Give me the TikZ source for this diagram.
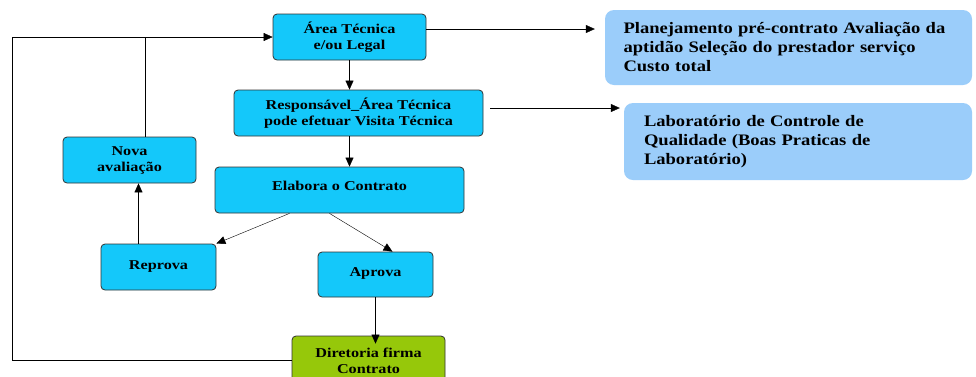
\documentclass[tikz,border=0pt]{standalone}
\usepackage{fontspec}
\setmainfont{Liberation Serif}
\newfontfamily\boxfont[FakeStretch=1.2]{Liberation Serif}
\newfontfamily\notefont[FakeStretch=1.16]{Liberation Serif}
\usetikzlibrary{arrows.meta}

\definecolor{boxcyan}{RGB}{20,200,250}
\definecolor{boxgreen}{RGB}{150,200,10}
\definecolor{notebg}{RGB}{155,205,250}

\begin{document}
\begin{tikzpicture}[x=1pt,y=-1pt]
\tikzset{%
  >={Triangle[length=9pt,width=8pt]}, % filled arrows
  flow box/.style={draw=black!80,fill=boxcyan,rounded corners=4pt,line width=0.8pt,
    align=center,font=\boxfont\bfseries\fontsize{13.5}{16}\selectfont,inner sep=2pt},%
  sign box/.style={flow box,fill=boxgreen},%
  note box/.style={fill=notebg,rounded corners=9pt,align=left,
    font=\notefont\bfseries\fontsize{16}{19}\selectfont,inner sep=0pt}%
}
\useasboundingbox (0,0) rectangle (976,376);
\fill[white] (0,0) rectangle (976,376);

%% main flow

\node[flow box,minimum width=153pt,minimum height=46pt] (area) at (349.5,37)
  {Área Técnica\\e/ou Legal};
\node[flow box,minimum width=249pt,minimum height=46pt] (resp) at (358.5,113)
  {Responsável\_Área Técnica\\pode efetuar Visita Técnica};
\node[flow box,minimum width=249pt,minimum height=46pt] (elab) at (339.5,190)
  {\raisebox{8pt}{Elabora o Contrato}};
\node[flow box,minimum width=133pt,minimum height=46pt] (nova) at (129.5,160)
  {Nova\\avaliação};
\node[flow box,minimum width=115pt,minimum height=46pt] (reprova) at (158.5,267)
  {Reprova};
\node[flow box,minimum width=115pt,minimum height=45pt] (aprova) at (375.5,274.5)
  {\raisebox{5pt}{Aprova}};
\node[sign box,minimum width=153pt,minimum height=50pt] (diret) at (368.5,361)
  {Diretoria firma\\Contrato};

%% notes

\node[note box,minimum width=367pt,minimum height=75pt,text width=330pt] (plan) at (788.5,47.5)
  {Planejamento pré-contrato Avaliação da\\aptidão Seleção do prestador serviço\\Custo total};
\node[note box,minimum width=348pt,minimum height=77pt,text width=308pt] (lab) at (798,141.5)
  {Laboratório de Controle de\\Qualidade (Boas Praticas de\\Laboratório)};

%% loop points

\coordinate (loopL) at (12,37);
\coordinate (loopB) at (12,360);
\coordinate (novaUp) at (145,37);

%% connectors

\draw[->] (area) -- (area.south |- resp.north);
\draw[->] (area.south |- resp.south) -- (area.south |- elab.north);
\draw[->] ([xshift=-50pt]elab.south) -- (reprova.north east);
\draw[->] ([xshift=-10pt]elab.south) -- ([xshift=17pt]aprova.north);
\draw[->] (aprova) -- ([yshift=-8pt]aprova.south |- diret.north);
\draw[->] ([xshift=-20pt]reprova.north) -- ([xshift=-20pt]reprova.north |- nova.south);
\draw (nova.north -| novaUp) -- (novaUp);
\draw[->] (diret.west |- loopB) -- (loopB) -- (loopL) -- (area.west);
\draw[->] ([yshift=8pt]area.east) -- ([xshift=-10pt,yshift=8pt]area.east -| plan.west);
\draw[->] ([yshift=5pt]resp.east) ++(7pt,0) -- ([xshift=-4pt,yshift=5pt]resp.east -| lab.west);
\end{tikzpicture}
\end{document}
